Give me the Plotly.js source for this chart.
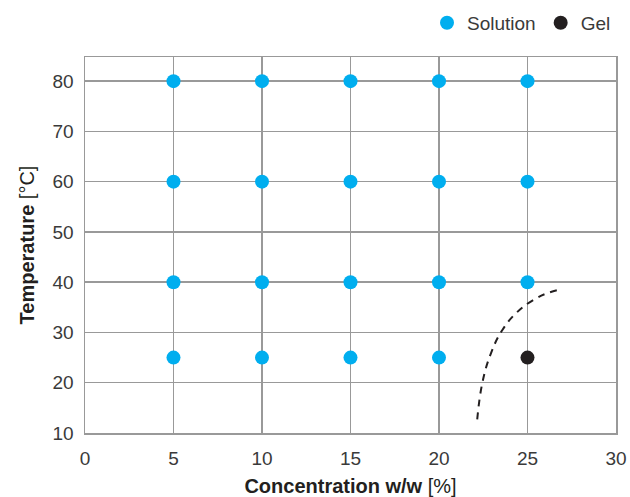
<!DOCTYPE html>
<html><head><meta charset="utf-8">
<script src="https://cdn.plot.ly/plotly-3.0.1.min.js"></script>
<style>body{margin:0;background:#fff}#chart{width:630px;height:497px}</style>
</head><body><div id="chart"></div>
<script>
const solutionConc = [5,10,15,20,25, 5,10,15,20,25, 5,10,15,20,25, 5,10,15,20];
const solutionTemp = [80,80,80,80,80, 60,60,60,60,60, 40,40,40,40,40, 25,25,25,25];
const gelConc = [25];
const gelTemp = [25];
const boundaryConc = [22.16, 22.45, 22.95, 23.6, 24.4, 25.3, 26.1, 26.93];
const boundaryTemp = [12.7, 20.0, 26.0, 30.6, 34.0, 36.4, 37.8, 38.6];
const xTicks = [0,5,10,15,20,25,30];
const yTicks = [10,20,30,40,50,60,70,80];

const font = "Liberation Sans, Arial, sans-serif";
const traces = [
  {x: boundaryConc, y: boundaryTemp, mode: 'lines', type: 'scatter', showlegend: false,
   line: {color: '#231f20', width: 2, dash: '7px,6px', shape: 'spline', smoothing: 1.2}, hoverinfo: 'skip'},
  {x: solutionConc, y: solutionTemp, mode: 'markers', type: 'scatter', name: 'Solution',
   marker: {color: '#00aeef', size: 14}},
  {x: gelConc, y: gelTemp, mode: 'markers', type: 'scatter', name: 'Gel',
   marker: {color: '#231f20', size: 14}}
];
const axisCommon = {showline: true, linecolor: '#999', linewidth: 1.5, mirror: true,
  showgrid: true, gridcolor: '#999', gridwidth: 1.5, zeroline: false,
  ticks: 'outside', ticklen: 0, tickcolor: 'rgba(0,0,0,0)',
  tickfont: {family: font, size: 19, color: '#3a3a3a'}};
const layout = {
  width: 630, height: 497,
  margin: {l: 85, r: 14, t: 57, b: 64, autoexpand: false},
  paper_bgcolor: '#fff', plot_bgcolor: '#fff',
  font: {family: font, color: '#231f20'},
  xaxis: Object.assign({}, axisCommon, {range: [0, 30], tickvals: xTicks, ticklabelstandoff: 8,
    title: {text: '<b>Concentration w/w</b> [%]', font: {family: font, size: 20, color: '#231f20'}, standoff: 10}}),
  yaxis: Object.assign({}, axisCommon, {range: [10, 84.8], tickvals: yTicks, ticklabelstandoff: 6,
    title: {text: '<b>Temperature</b> [°C]', font: {family: font, size: 20, color: '#231f20'}, standoff: 12}}),
  legend: {orientation: 'h', x: 1.0, xanchor: 'right', y: 1.04, yanchor: 'bottom',
    font: {family: font, size: 19, color: '#3a3a3a'}, itemwidth: 30, tracegroupgap: 0},
  showlegend: true
};
Plotly.newPlot('chart', traces, layout, {displayModeBar: false, staticPlot: true});
</script></body></html>
